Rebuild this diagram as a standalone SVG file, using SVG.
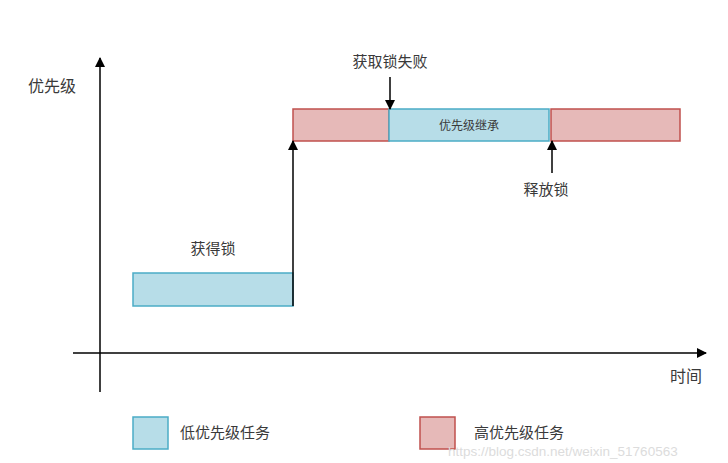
<svg xmlns="http://www.w3.org/2000/svg" width="728" height="463" viewBox="0 0 728 463">
<defs>
<marker id="ah" markerWidth="10" markerHeight="10" refX="9" refY="5" orient="auto" markerUnits="userSpaceOnUse">
<path d="M0,0 L10,5 L0,10 z" fill="#000"/>
</marker>
<style>
.t{font-family:"Liberation Serif","Noto Sans CJK SC",serif;fill:#3a3a3a;}
.low{fill:#b7dde8;stroke:#4bacc6;stroke-width:1.5;}
.high{fill:#e6b9b8;stroke:#c0504d;stroke-width:1.5;}
.ln{stroke:#000;stroke-width:1.5;fill:none;}
</style>
</defs>
<rect width="728" height="463" fill="#fff"/>
<g id="axes">
<line class="ln" x1="100" y1="392" x2="100" y2="58" marker-end="url(#ah)"/>
<line class="ln" x1="73" y1="353" x2="706" y2="353" marker-end="url(#ah)"/>
<text class="t" x="28" y="92" font-size="16">优先级</text>
<text class="t" x="670" y="382" font-size="16">时间</text>
</g>
<g id="low-task">
<rect class="low" x="133" y="273" width="160" height="33"/>
<text class="t" x="213" y="254" font-size="15" text-anchor="middle">获得锁</text>
</g>
<g id="high-task-1">
<rect class="high" x="293" y="109" width="96" height="32"/>
</g>
<g id="inherit">
<rect class="low" x="389" y="109" width="160" height="32"/>
<text class="t" x="469" y="130" font-size="12" text-anchor="middle">优先级继承</text>
</g>
<g id="high-task-2">
<rect class="high" x="551" y="109" width="129" height="32"/>
</g>
<g id="labels">
<text class="t" x="390" y="67" font-size="15" text-anchor="middle">获取锁失败</text>
<text class="t" x="546" y="195" font-size="15" text-anchor="middle">释放锁</text>
</g>
<g id="connectors">
<line class="ln" x1="293" y1="306" x2="293" y2="141" marker-end="url(#ah)"/>
<line class="ln" x1="390" y1="77" x2="390" y2="109" marker-end="url(#ah)"/>
<line class="ln" x1="552" y1="173" x2="552" y2="141" marker-end="url(#ah)"/>
</g>
<g id="legend">
<rect class="low" x="133" y="417" width="35" height="32"/>
<text class="t" x="180" y="438" font-size="15">低优先级任务</text>
<rect class="high" x="420" y="417" width="35" height="32"/>
<text class="t" x="474" y="438" font-size="15">高优先级任务</text>
</g>
<text x="448" y="456" font-family="Liberation Sans,sans-serif" font-size="13.5" fill="#dcdcdc">https://blog.csdn.net/weixin_51760563</text>
</svg>
